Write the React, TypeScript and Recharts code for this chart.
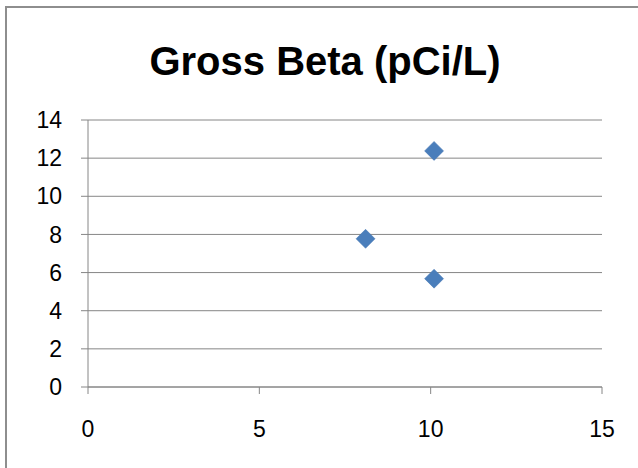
import React from "react";
import { ScatterChart, Scatter, XAxis, YAxis, CartesianGrid } from "recharts";

const xValues = [10.1, 8.1, 10.1];
const yValues = [12.38, 7.77, 5.68];
const xTicks = [0, 5, 10, 15];
const yTicks = [0, 2, 4, 6, 8, 10, 12, 14];
const title = "Gross Beta (pCi/L)";

const data = xValues.map((x, i) => ({ x, y: yValues[i] }));

const FONT = "'Liberation Sans', Arial, sans-serif";
const AXIS = "#868686";

const Diamond = (props: any) => {
  const { cx, cy } = props;
  const r = 9.5;
  return (
    <polygon
      points={`${cx},${cy - r} ${cx + r},${cy} ${cx},${cy + r} ${cx - r},${cy}`}
      fill="#4A7EBB"
      stroke="#4677B3"
      strokeWidth={0.5}
    />
  );
};

export default function App() {
  return (
    <div
      style={{
        position: "fixed",
        left: 0,
        top: 0,
        width: 638,
        height: 468,
        overflow: "hidden",
        background: "#fff",
      }}
    >
      <div
        style={{
          position: "absolute",
          left: 5,
          top: 6,
          width: 700,
          height: 600,
          borderLeft: "2px solid #8e8e8e",
          borderTop: "2px solid #8e8e8e",
        }}
      />
      <div
        style={{
          position: "absolute",
          left: 0,
          width: 650,
          top: 41,
          textAlign: "center",
          fontFamily: FONT,
          fontWeight: "bold",
          fontSize: 40,
          lineHeight: "40px",
          color: "#000",
        }}
      >
        {title}
      </div>
      <div style={{ position: "absolute", left: 0, top: 0 }}>
        <ScatterChart
          width={638}
          height={468}
          margin={{ top: 120, right: 36, bottom: 0, left: 0 }}
        >
          <CartesianGrid vertical={false} stroke={AXIS} strokeWidth={1} />
          <XAxis
            type="number"
            dataKey="x"
            domain={[0, 15]}
            ticks={xTicks}
            interval={0}
            height={81}
            tickSize={7}
            tickMargin={27}
            stroke={AXIS}
            tick={{ fill: "#000", fontSize: 23, fontFamily: FONT }}
            axisLine={{ stroke: AXIS }}
            tickLine={{ stroke: AXIS }}
          />
          <YAxis
            type="number"
            dataKey="y"
            domain={[0, 14]}
            ticks={yTicks}
            interval={0}
            width={88}
            tickSize={7}
            tickMargin={19}
            stroke={AXIS}
            tick={{ fill: "#000", fontSize: 23, fontFamily: FONT }}
            axisLine={{ stroke: AXIS }}
            tickLine={{ stroke: AXIS }}
          />
          <Scatter data={data} shape={<Diamond />} isAnimationActive={false} />
        </ScatterChart>
      </div>
    </div>
  );
}
